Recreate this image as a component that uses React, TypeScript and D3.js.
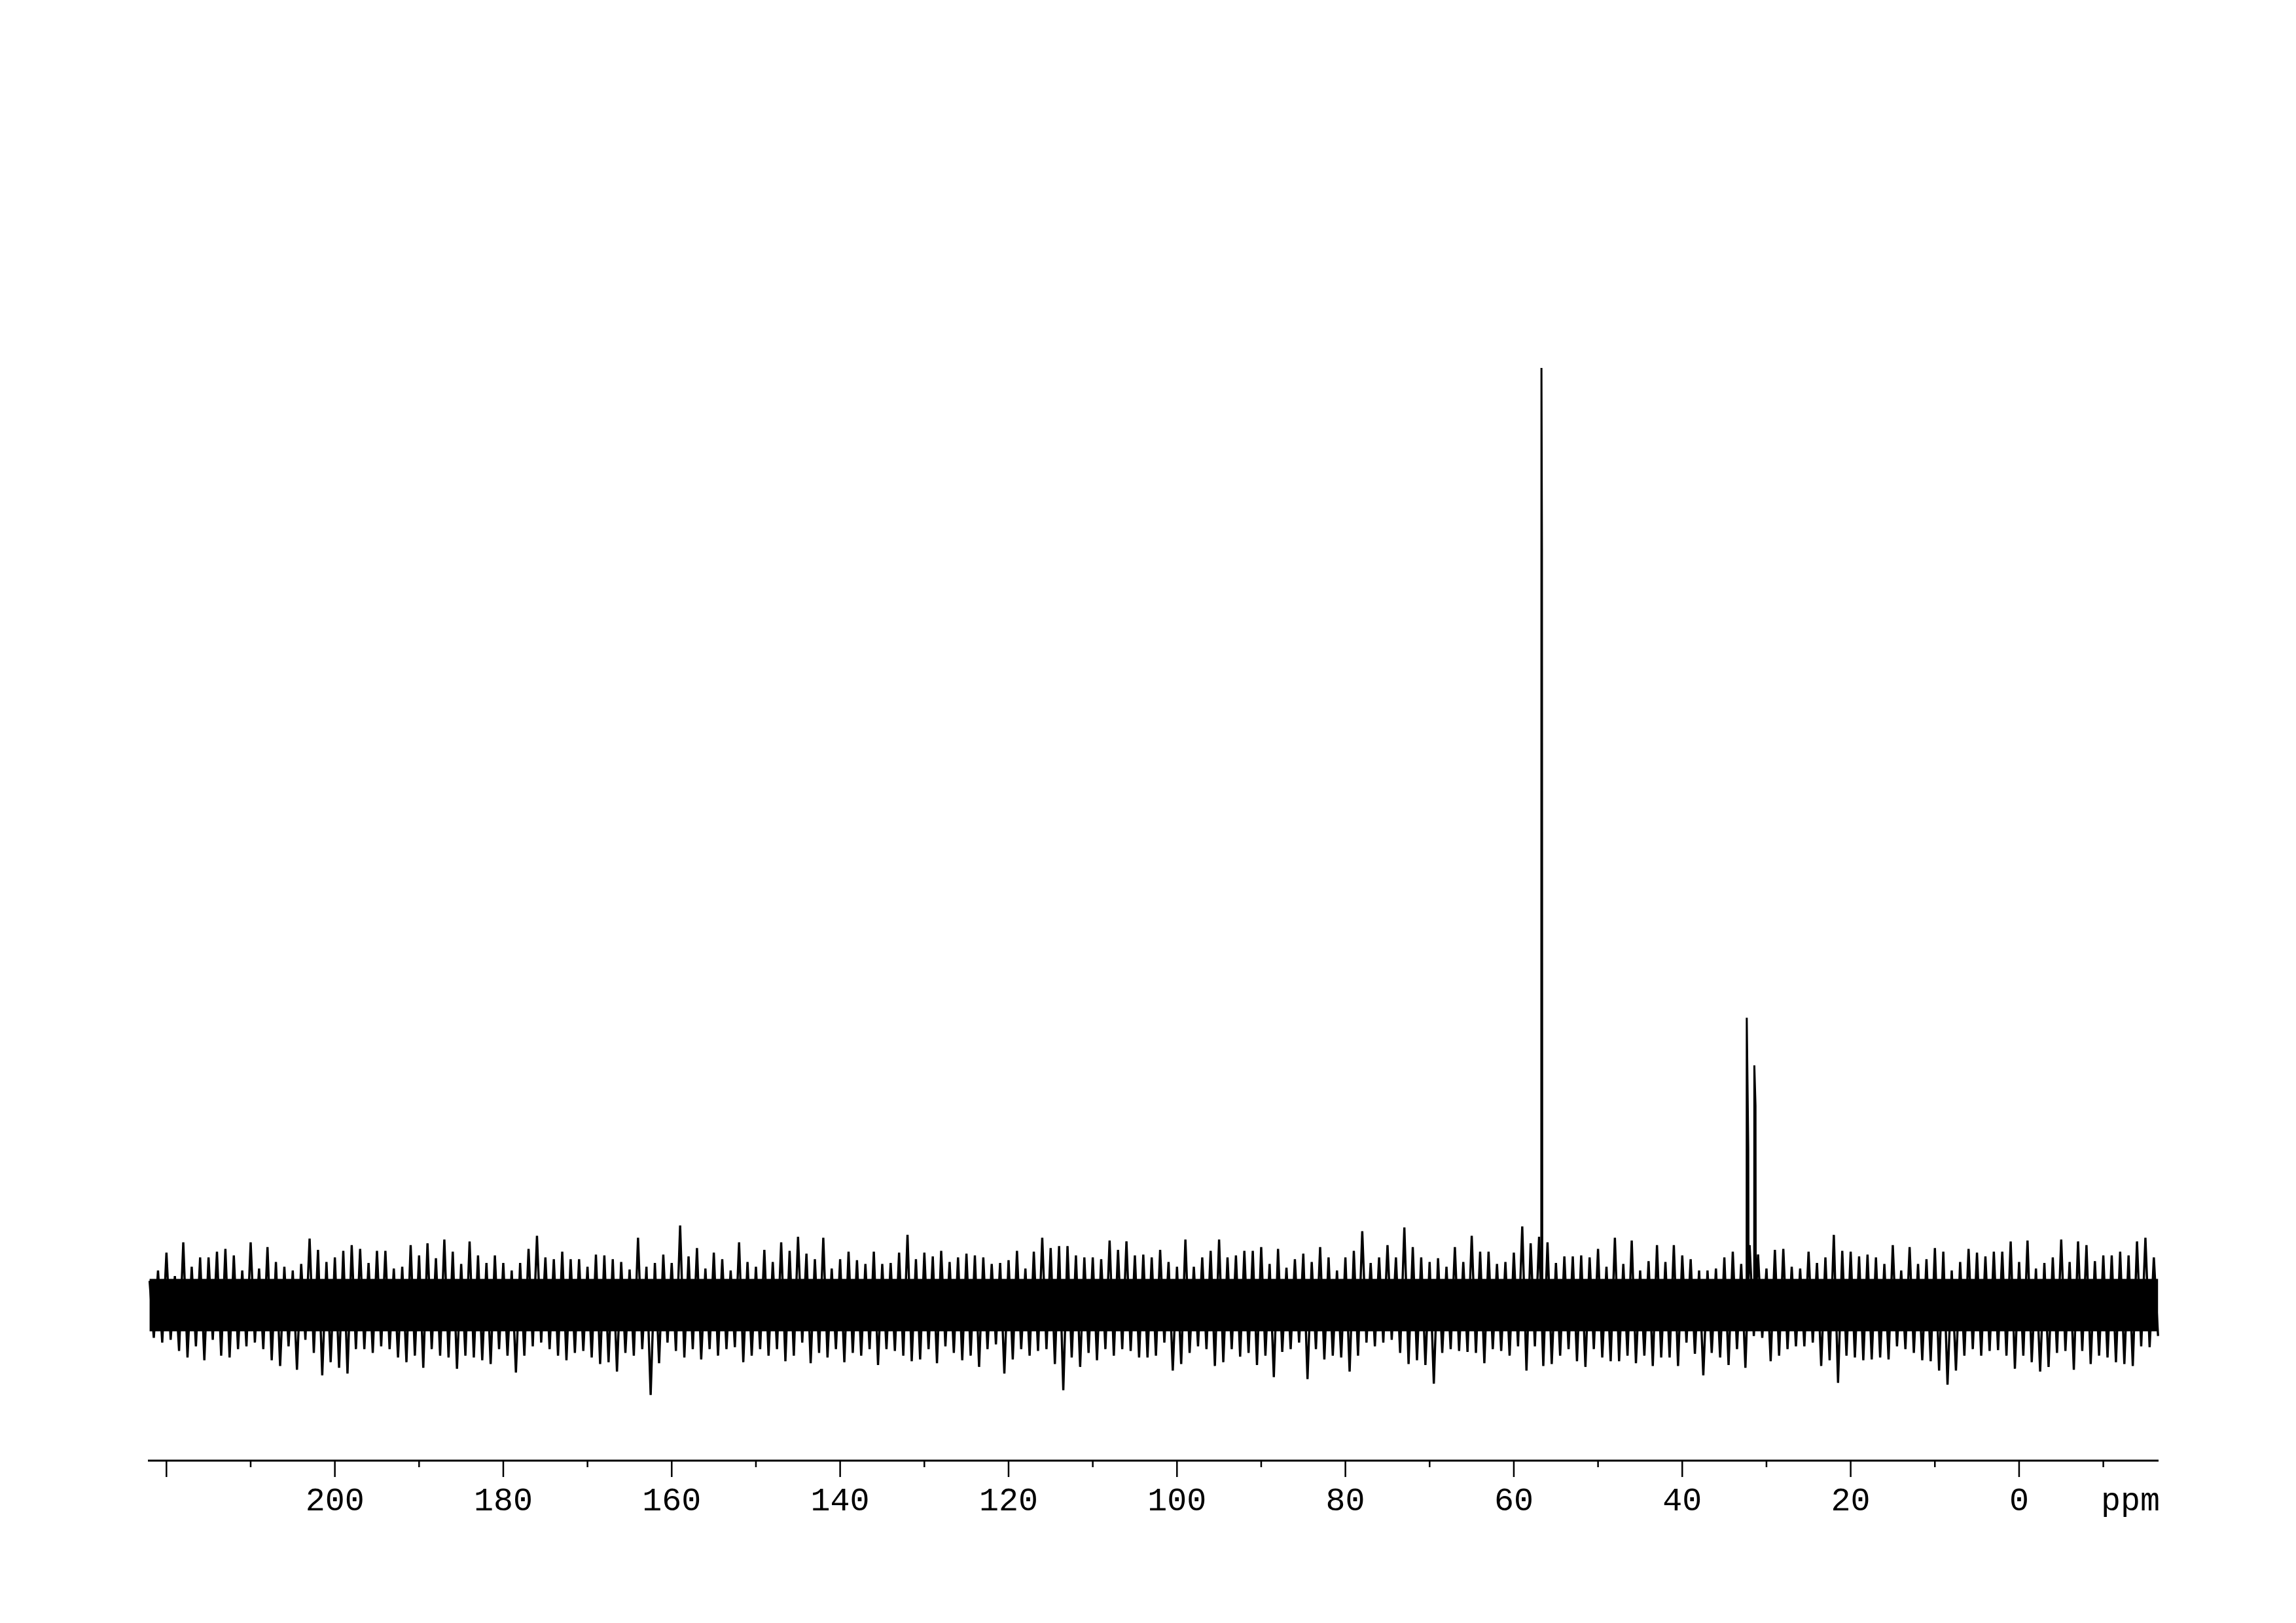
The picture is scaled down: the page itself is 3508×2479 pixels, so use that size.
import React from "react";
import * as d3 from "d3";

// ---- data (intensity in arbitrary units, main peak = 1000) ----
const ppmStart = 222;
const ppmStep = 1;

// upper noise envelope, one value per ppm from 222 down to -16
const noiseHi = [
  25, 36, 55, 30, 66, 40, 50, 50, 56, 59,
  52, 36, 66, 38, 61, 45, 40, 36, 43, 70,
  58, 45, 50, 57, 63, 59, 44, 57, 57, 38,
  40, 63, 52, 65, 49, 69, 56, 43, 67, 52,
  44, 52, 44, 36, 44, 59, 73, 50, 48, 56,
  48, 48, 40, 53, 52, 48, 45, 37, 71, 40,
  44, 53, 44, 84, 51, 60, 38, 55, 48, 36,
  66, 45, 40, 58, 45, 66, 57, 72, 54, 48,
  71, 38, 48, 56, 47, 43, 56, 43, 44, 55,
  74, 48, 55, 51, 57, 45, 50, 54, 52, 50,
  43, 44, 47, 57, 38, 56, 71, 60, 62, 62,
  52, 50, 50, 48, 68, 58, 67, 52, 53, 50,
  58, 45, 40, 69, 40, 50, 57, 69, 50, 52,
  57, 57, 61, 43, 59, 39, 48, 54, 45, 61,
  50, 36, 50, 57, 78, 44, 50, 63, 50, 82,
  61, 50, 45, 49, 40, 61, 45, 73, 56, 56,
  43, 45, 55, 83, 65, 72, 66, 44, 51, 51,
  52, 50, 59, 40, 71, 43, 68, 36, 46, 63,
  45, 63, 52, 48, 36, 36, 38, 50, 56, 43,
  63, 53, 38, 58, 59, 40, 38, 56, 44, 50,
  74, 57, 56, 51, 53, 50, 43, 63, 36, 61,
  43, 48, 60, 56, 36, 45, 59, 55, 51, 56,
  56, 67, 45, 68, 38, 44, 50, 69, 45, 67,
  63, 46, 52, 52, 56, 52, 67, 71, 50,
];

// lower noise envelope, one value per ppm from 222 down to -16
const noiseLo = [
  -36, -41, -38, -50, -57, -45, -60, -38, -55, -57,
  -48, -45, -41, -48, -60, -66, -45, -70, -38, -52,
  -76, -62, -68, -74, -48, -48, -52, -45, -48, -57,
  -62, -55, -68, -48, -55, -57, -69, -55, -57, -60,
  -64, -48, -55, -73, -55, -45, -41, -48, -55, -60,
  -52, -50, -57, -64, -62, -72, -52, -55, -48, -97,
  -63, -41, -50, -57, -48, -59, -48, -55, -48, -46,
  -62, -55, -48, -55, -48, -61, -55, -41, -63, -52,
  -57, -48, -62, -52, -55, -48, -65, -48, -50, -55,
  -61, -59, -48, -63, -45, -52, -60, -55, -67, -48,
  -43, -74, -59, -48, -55, -50, -48, -64, -92, -57,
  -67, -52, -60, -48, -55, -48, -50, -57, -57, -55,
  -41, -71, -64, -52, -45, -48, -66, -62, -48, -56,
  -52, -65, -55, -78, -51, -48, -41, -80, -48, -59,
  -55, -57, -72, -55, -41, -45, -41, -38, -52, -64,
  -60, -65, -85, -52, -48, -50, -51, -52, -63, -48,
  -50, -55, -45, -71, -45, -66, -64, -55, -48, -61,
  -67, -48, -57, -61, -61, -55, -63, -55, -66, -57,
  -57, -66, -41, -53, -76, -52, -57, -65, -48, -68,
  -34, -36, -61, -55, -48, -45, -45, -41, -66, -60,
  -84, -55, -57, -60, -59, -57, -59, -45, -48, -52,
  -60, -61, -71, -86, -71, -55, -48, -55, -50, -49,
  -55, -69, -55, -62, -72, -67, -52, -50, -70, -50,
  -64, -55, -57, -62, -64, -66, -45, -46, -34,
];

// dense central part of the noise band
const noiseCore = [27, -29];

// signals: [ppm, intensity] traces
const peakMain = [
  [56.74, 0], [56.72, 1000], [56.66, 807], [56.62, 0],
];
const peakA = [
  [32.36, 0], [32.34, 306], [32.16, 167], [32.12, 0],
];
const peakB = [
  [31.46, 0], [31.44, 255], [31.3, 212], [31.27, 0],
];

const majorTicks = [220, 200, 180, 160, 140, 120, 100, 80, 60, 40, 20, 0];
const minorTicks = [210, 190, 170, 150, 130, 110, 90, 70, 50, 30, 10, -10];
const tickLabels = [200, 180, 160, 140, 120, 100, 80, 60, 40, 20, 0];
const axisUnit = "ppm";

const ppmDomain = [222.2, -16.56];

export default function App() {
  const W = 3508;
  const H = 2479;
  const x = d3.scaleLinear().domain(ppmDomain).range([226, 3298]);
  const y = d3.scaleLinear().domain([0, 1000]).range([1992, 562]);

  const noisePts: [number, number][] = [];
  noiseHi.forEach((h, i) => {
    const p = ppmStart - i * ppmStep;
    noisePts.push([p, h]);
    noisePts.push([p - ppmStep / 2, noiseLo[i]]);
  });
  const line = d3
    .line<number[]>()
    .x((d) => x(d[0]))
    .y((d) => y(d[1]));

  const lastPpm = ppmStart - (noiseHi.length - 1) * ppmStep - ppmStep / 2;
  const axisY = 2231;
  const font = "'Liberation Mono', 'DejaVu Sans Mono', monospace";

  return (
    <svg
      width={W}
      height={H}
      viewBox={`0 0 ${W} ${H}`}
      style={{ position: "absolute", left: 0, top: 0, background: "#fff", display: "block" }}
    >
      <rect x={0} y={0} width={W} height={H} fill="#fff" />
      <rect
        x={x(ppmStart)}
        y={y(noiseCore[0])}
        width={x(lastPpm) - x(ppmStart)}
        height={y(noiseCore[1]) - y(noiseCore[0])}
        fill="#000"
      />
      <path d={line(noisePts) || ""} fill="none" stroke="#000" strokeWidth={3.4} strokeLinejoin="miter" />
      {[peakMain, peakA, peakB].map((pk, i) => (
        <path key={i} d={line(pk) || ""} fill="none" stroke="#000" strokeWidth={3} />
      ))}
      <line x1={x(ppmDomain[0])} x2={x(ppmDomain[1])} y1={axisY} y2={axisY} stroke="#000" strokeWidth={3} />
      {majorTicks.map((t) => (
        <line key={"M" + t} x1={x(t)} x2={x(t)} y1={axisY} y2={axisY + 25} stroke="#000" strokeWidth={2.5} />
      ))}
      {minorTicks.map((t) => (
        <line key={"m" + t} x1={x(t)} x2={x(t)} y1={axisY} y2={axisY + 10} stroke="#000" strokeWidth={2.5} />
      ))}
      {tickLabels.map((t) => (
        <text
          key={"l" + t}
          x={x(t)}
          y={2307}
          textAnchor="middle"
          fontFamily={font}
          fontSize={50}
          fill="#000"
        >
          {String(t)}
        </text>
      ))}
      <text x={x(ppmDomain[1]) + 2} y={2307} textAnchor="end" fontFamily={font} fontSize={50} fill="#000">
        {axisUnit}
      </text>
    </svg>
  );
}
